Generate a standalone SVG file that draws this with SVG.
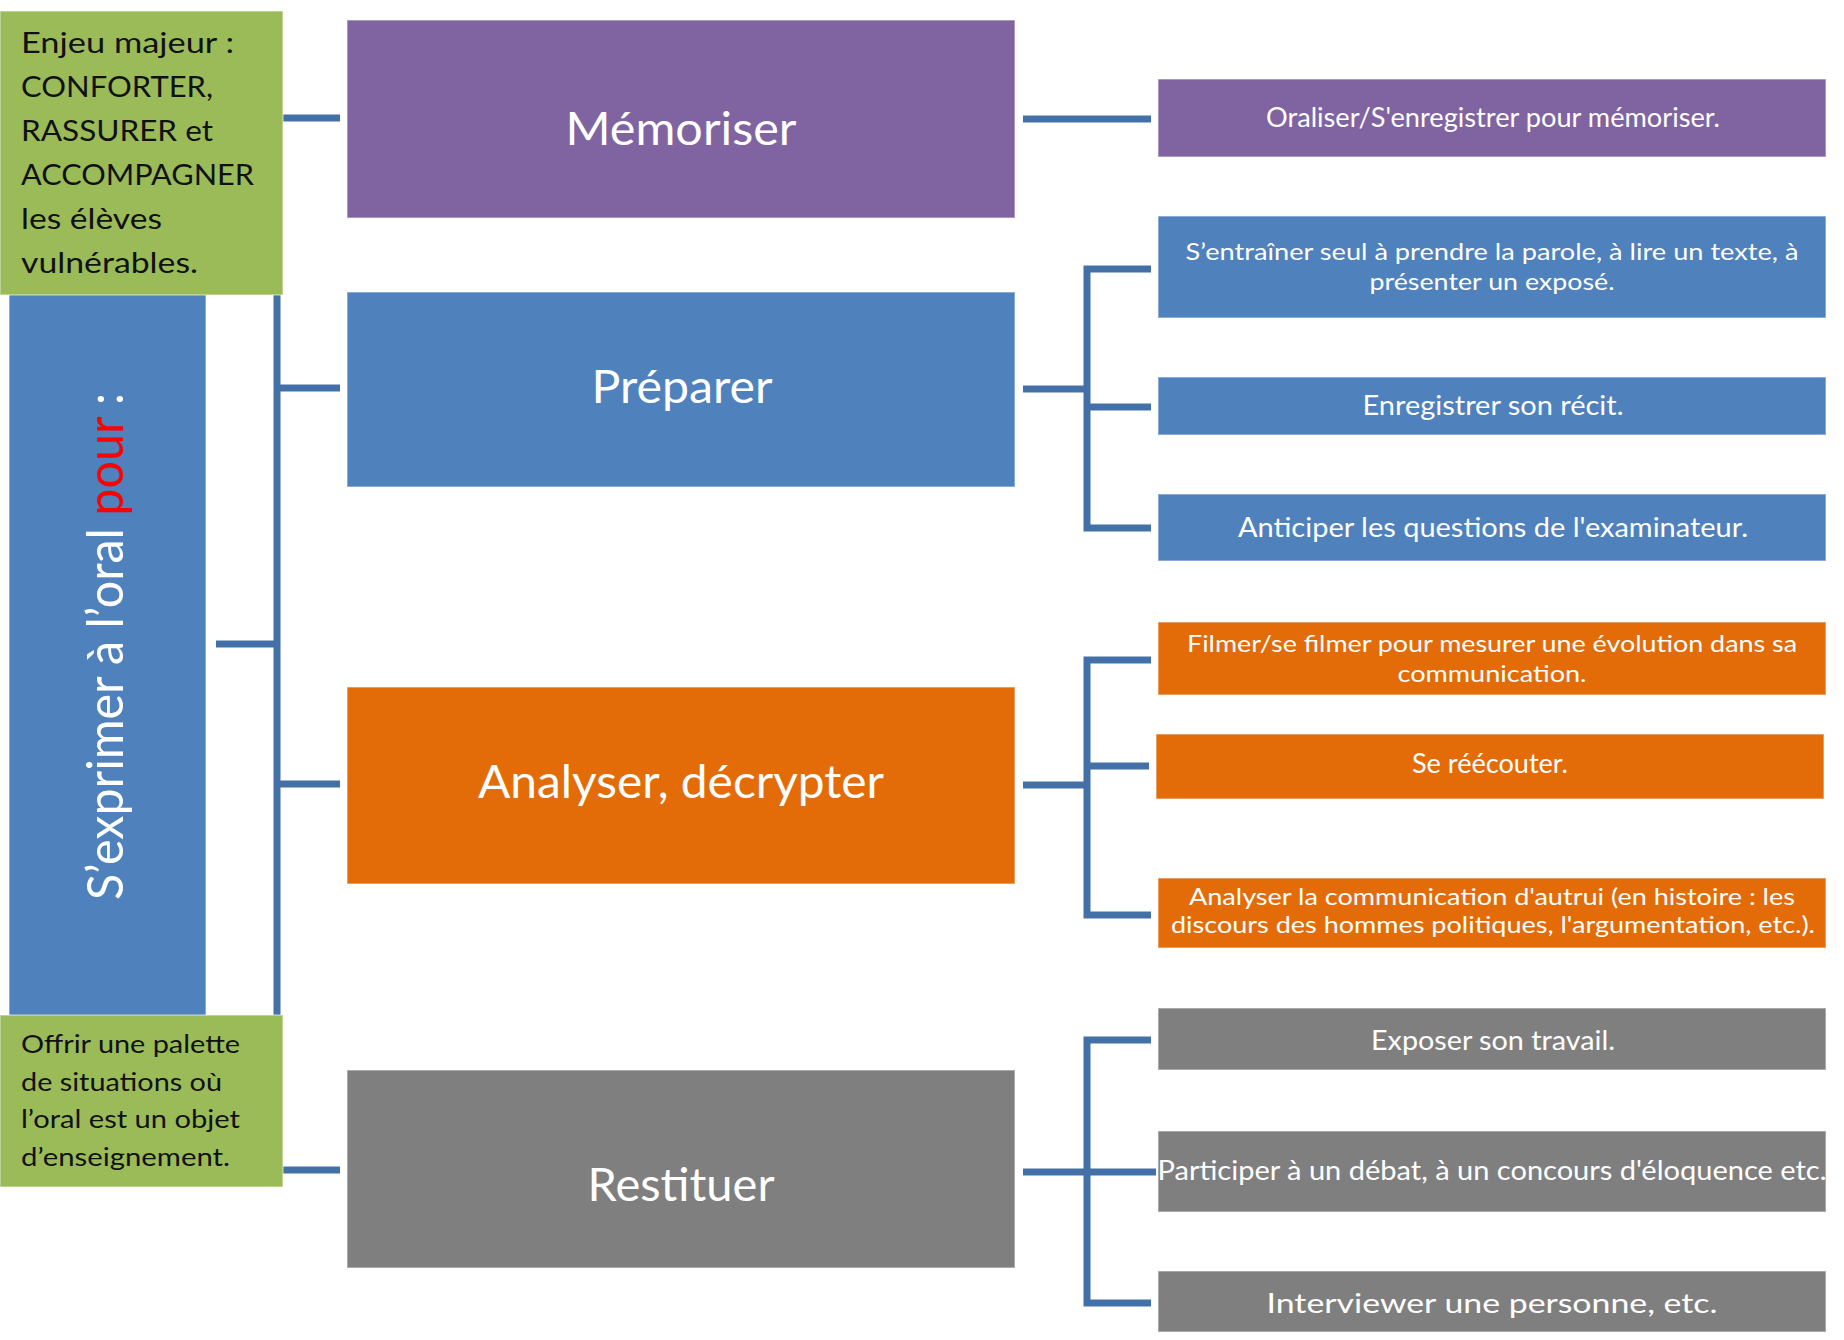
<svg xmlns="http://www.w3.org/2000/svg" width="1844" height="1340" viewBox="0 0 1844 1340">
<style>
.con{fill:none;stroke:#4470A8;stroke-width:7;stroke-linecap:butt;stroke-linejoin:miter}
.box{stroke:#ffffff;stroke-opacity:0.45;stroke-width:1.5}
.green{fill:#9BBB59}
.purple{fill:#8064A2}
.blue{fill:#4F81BD}
.orange{fill:#E36C09}
.gray{fill:#7F7F7F}
.main{font-family:Lato,"Open Sans","Liberation Sans",sans-serif;font-size:46px;fill:#ffffff;text-anchor:middle}
.sub{font-family:Lato,"Open Sans","Liberation Sans",sans-serif;font-size:26px;fill:#ffffff;text-anchor:middle}
.sub2{font-size:23.5px}
.note{font-family:Lato,"Open Sans","Liberation Sans",sans-serif;fill:#111111}
.vert{font-family:Lato,"Open Sans","Liberation Sans",sans-serif;font-size:50px;fill:#ffffff}
</style>
<rect width="1844" height="1340" fill="#ffffff"/>
<g id="connectors">
<path class="con" d="M277 293V1016"/>
<path class="con" d="M283 118H340"/>
<path class="con" d="M277 388H340"/>
<path class="con" d="M277 784H340"/>
<path class="con" d="M216 644H277"/>
<path class="con" d="M283 1170H340"/>
<path class="con" d="M1023 119H1151"/>
<path class="con" d="M1023 389H1087"/>
<path class="con" d="M1151 269H1087V528H1151"/>
<path class="con" d="M1087 407H1151"/>
<path class="con" d="M1023 785H1087"/>
<path class="con" d="M1151 660H1087V915H1151"/>
<path class="con" d="M1087 766H1149"/>
<path class="con" d="M1023 1172H1156"/>
<path class="con" d="M1151 1040H1087V1303H1151"/>
</g>
<g id="bar-sexprimer">
<rect class="blue box" x="9" y="293" width="197" height="723"/>
<text class="vert" transform="translate(123,900) rotate(-90)" textLength="507" lengthAdjust="spacingAndGlyphs">S’exprimer à l’oral <tspan fill="#FF0000">pour</tspan> :</text>
</g>
<g id="note-enjeu">
<rect class="green box" x="0" y="11" width="283" height="284"/>
<text class="note" font-size="29">
<tspan x="21" y="53" textLength="213" lengthAdjust="spacingAndGlyphs">Enjeu majeur :</tspan>
<tspan x="21" y="97" textLength="192" lengthAdjust="spacingAndGlyphs">CONFORTER,</tspan>
<tspan x="21" y="141" textLength="192" lengthAdjust="spacingAndGlyphs">RASSURER et</tspan>
<tspan x="21" y="185" textLength="233" lengthAdjust="spacingAndGlyphs">ACCOMPAGNER</tspan>
<tspan x="21" y="229" textLength="141" lengthAdjust="spacingAndGlyphs">les élèves</tspan>
<tspan x="21" y="273" textLength="177" lengthAdjust="spacingAndGlyphs">vulnérables.</tspan>
</text>
</g>
<g id="note-offrir">
<rect class="green box" x="0" y="1015" width="283" height="172"/>
<text class="note" font-size="25">
<tspan x="21" y="1053" textLength="219" lengthAdjust="spacingAndGlyphs">Offrir une palette</tspan>
<tspan x="21" y="1091" textLength="201" lengthAdjust="spacingAndGlyphs">de situations où</tspan>
<tspan x="21" y="1128" textLength="219" lengthAdjust="spacingAndGlyphs">l’oral est un objet</tspan>
<tspan x="21" y="1166" textLength="209" lengthAdjust="spacingAndGlyphs">d’enseignement.</tspan>
</text>
</g>
<g id="memoriser">
<rect class="purple box" x="347" y="20" width="668" height="198"/>
<text class="main" x="681" y="145" textLength="231" lengthAdjust="spacingAndGlyphs">Mémoriser</text>
</g>
<g id="preparer">
<rect class="blue box" x="347" y="292" width="668" height="195"/>
<text class="main" x="682" y="403" textLength="181" lengthAdjust="spacingAndGlyphs">Préparer</text>
</g>
<g id="analyser">
<rect class="orange box" x="347" y="687" width="668" height="197"/>
<text class="main" x="681" y="798" textLength="406" lengthAdjust="spacingAndGlyphs">Analyser, décrypter</text>
</g>
<g id="restituer">
<rect class="gray box" x="347" y="1070" width="668" height="198"/>
<text class="main" x="681" y="1201" textLength="187" lengthAdjust="spacingAndGlyphs">Restituer</text>
</g>
<g id="oraliser">
<rect class="purple box" x="1158" y="79" width="668" height="78"/>
<text class="sub" x="1493" y="127" textLength="454" lengthAdjust="spacingAndGlyphs">Oraliser/S'enregistrer pour mémoriser.</text>
</g>
<g id="sentrainer">
<rect class="blue box" x="1158" y="216" width="668" height="102"/>
<text class="sub sub2" x="1492" y="260" textLength="613" lengthAdjust="spacingAndGlyphs">S’entraîner seul à prendre la parole, à lire un texte, à</text>
<text class="sub sub2" x="1492" y="290" textLength="245" lengthAdjust="spacingAndGlyphs">présenter un exposé.</text>
</g>
<g id="enregistrer">
<rect class="blue box" x="1158" y="377" width="668" height="58"/>
<text class="sub" x="1493" y="415" textLength="261" lengthAdjust="spacingAndGlyphs">Enregistrer son récit.</text>
</g>
<g id="anticiper">
<rect class="blue box" x="1158" y="494" width="668" height="67"/>
<text class="sub" x="1493" y="537" textLength="510" lengthAdjust="spacingAndGlyphs">Anticiper les questions de l'examinateur.</text>
</g>
<g id="filmer">
<rect class="orange box" x="1158" y="622" width="668" height="73"/>
<text class="sub sub2" x="1492" y="652" textLength="610" lengthAdjust="spacingAndGlyphs">Filmer/se filmer pour mesurer une évolution dans sa</text>
<text class="sub sub2" x="1492" y="682" textLength="189" lengthAdjust="spacingAndGlyphs">communication.</text>
</g>
<g id="reecouter">
<rect class="orange box" x="1156" y="734" width="668" height="65"/>
<text class="sub" x="1490" y="773" textLength="156" lengthAdjust="spacingAndGlyphs">Se réécouter.</text>
</g>
<g id="analyser-comm">
<rect class="orange box" x="1158" y="878" width="668" height="70"/>
<text class="sub sub2" x="1492" y="905" textLength="606" lengthAdjust="spacingAndGlyphs">Analyser la communication d'autrui (en histoire : les</text>
<text class="sub sub2" x="1493" y="933" textLength="644" lengthAdjust="spacingAndGlyphs">discours des hommes politiques, l'argumentation, etc.).</text>
</g>
<g id="exposer">
<rect class="gray box" x="1158" y="1008" width="668" height="62"/>
<text class="sub" x="1493" y="1050" textLength="244" lengthAdjust="spacingAndGlyphs">Exposer son travail.</text>
</g>
<g id="participer">
<rect class="gray box" x="1158" y="1131" width="668" height="81"/>
<text class="sub" x="1492" y="1180" textLength="669" lengthAdjust="spacingAndGlyphs">Participer à un débat, à un concours d'éloquence etc.</text>
</g>
<g id="interviewer">
<rect class="gray box" x="1158" y="1271" width="668" height="61"/>
<text class="sub" x="1492" y="1313" font-size="31" textLength="451" lengthAdjust="spacingAndGlyphs">Interviewer une personne, etc.</text>
</g>
</svg>
